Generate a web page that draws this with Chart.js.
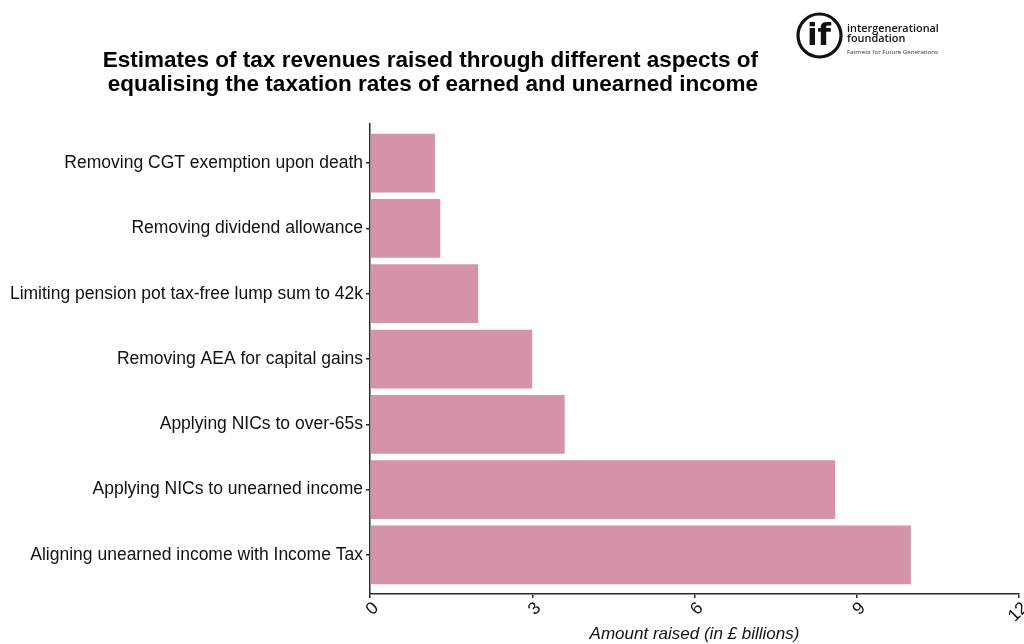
<!DOCTYPE html>
<html>
<head>
<meta charset="utf-8">
<script src="https://cdn.jsdelivr.net/npm/chart.js@4/dist/chart.umd.min.js"></script>
<style>
  html, body { margin: 0; padding: 0; background: #ffffff; }
  #wrap { width: 1024px; height: 644px; }
</style>
</head>
<body>
<div id="wrap"><canvas id="chart" width="1024" height="644"></canvas></div>
<script>
// Policy options, listed top to bottom
const categories = [
  'Removing CGT exemption upon death',
  'Removing dividend allowance',
  'Limiting pension pot tax-free lump sum to 42k',
  'Removing AEA for capital gains',
  'Applying NICs to over-65s',
  'Applying NICs to unearned income',
  'Aligning unearned income with Income Tax'
];
// Revenue raised, £ billions
const revenues = [1.2, 1.3, 2.0, 3.0, 3.6, 8.6, 10.0];
// Value axis tick marks
const xTicks = [0, 3, 6, 9, 12];

const titleLines = [
  'Estimates of tax revenues raised through different aspects of',
  'equalising the taxation rates of earned and unearned income'
];
const xTitle = 'Amount raised (in £ billions)';
const logoName = ['intergenerational', 'foundation'];
const logoTagline = 'Fairness for Future Generations';

const FONT = '"Liberation Sans", Arial, sans-serif';
const BAR = '#D492AB';
const AXIS = '#2b2b2b';

// Size a font so a string spans a given width
function fitFont(ctx, text, weight, family, width) {
  ctx.font = weight + ' 20px ' + family;
  const size = 20 * width / ctx.measureText(text).width;
  return weight + ' ' + size.toFixed(2) + 'px ' + family;
}

const decorations = {
  id: 'decorations',
  afterDraw(chart) {
    const ctx = chart.ctx;
    ctx.save();
    // Heading
    ctx.fillStyle = '#000';
    ctx.font = 'bold 22.5px ' + FONT;
    ctx.textAlign = 'right';
    ctx.textBaseline = 'alphabetic';
    ctx.fillText(titleLines[0], 758, 66.5);
    ctx.fillText(titleLines[1], 758, 91);

    // Foundation mark
    ctx.strokeStyle = '#111';
    ctx.lineWidth = 3.2;
    ctx.beginPath();
    ctx.arc(819.5, 35.5, 21.5, 0, Math.PI * 2);
    ctx.stroke();
    ctx.fillStyle = '#111';
    ctx.textAlign = 'center';
    ctx.textBaseline = 'middle';
    ctx.font = 'bold 31px "DejaVu Sans", sans-serif';
    ctx.fillText('if', 819, 37);

    ctx.textAlign = 'left';
    ctx.textBaseline = 'alphabetic';
    ctx.font = fitFont(ctx, logoName[0], '600', '"Open Sans", sans-serif', 92);
    ctx.fillText(logoName[0], 847, 31.5);
    ctx.fillText(logoName[1], 847, 42);
    ctx.font = fitFont(ctx, logoTagline, '400', '"Open Sans", sans-serif', 91);
    ctx.fillStyle = '#333';
    ctx.fillText(logoTagline, 847, 53.5);
    ctx.restore();
  }
};

new Chart(document.getElementById('chart'), {
  type: 'bar',
  data: {
    datasets: [{
      data: revenues.map((v, i) => ({ x: v, y: i })),
      backgroundColor: BAR,
      borderWidth: 0,
      barPercentage: 0.9,
      categoryPercentage: 1
    }]
  },
  options: {
    indexAxis: 'y',
    responsive: false,
    animation: false,
    layout: { padding: { top: 124, right: 5, bottom: 0, left: 0 } },
    plugins: {
      legend: { display: false },
      tooltip: { enabled: false },
      title: { display: false }
    },
    scales: {
      x: {
        type: 'linear',
        position: 'bottom',
        min: 0,
        max: 12,
        afterBuildTicks: s => { s.ticks = xTicks.map(v => ({ value: v })); },
        ticks: {
          minRotation: 45,
          maxRotation: 45,
          padding: 0,
          labelOffset: 6,
          color: '#111',
          font: { family: FONT, size: 17.5 }
        },
        grid: { drawOnChartArea: false, drawTicks: true, tickLength: 4, color: AXIS, lineWidth: 1.5 },
        border: { display: true, color: AXIS, width: 1.5 },
        title: {
          display: true,
          text: xTitle,
          color: '#111',
          font: { family: FONT, size: 17, style: 'italic' },
          padding: { top: 0, bottom: 0 }
        },
        afterFit: s => { s.height = 50; s.paddingLeft = 0; s.paddingRight = 0; }
      },
      y: {
        type: 'linear',
        min: -0.6,
        max: 6.6,
        reverse: true,
        offset: false,
        afterBuildTicks: s => { s.ticks = categories.map((c, i) => ({ value: i })); },
        ticks: {
          autoSkip: false,
          padding: 3,
          color: '#111',
          font: { family: FONT, size: 17.5 },
          callback: v => categories[v]
        },
        grid: { offset: false, drawOnChartArea: false, drawTicks: true, tickLength: 4, color: AXIS, lineWidth: 1.5 },
        border: { display: true, color: AXIS, width: 1.5 },
        afterFit: s => { s.width = 370; s.paddingTop = 0; s.paddingBottom = 0; }
      }
    }
  },
  plugins: [decorations]
});
</script>
</body>
</html>
